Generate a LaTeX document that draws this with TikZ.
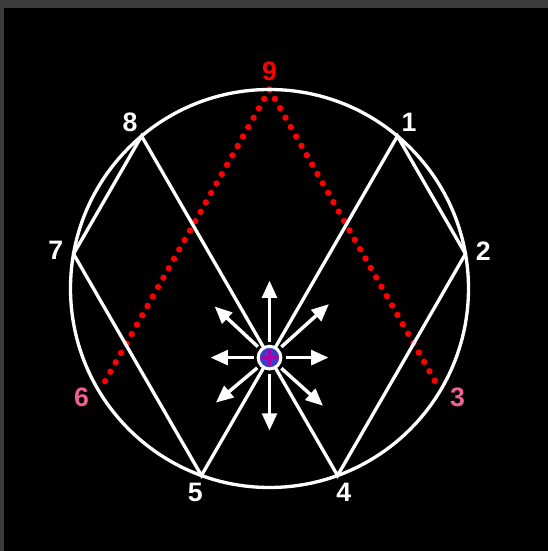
\documentclass[tikz,border=0pt]{standalone}
\usepackage{fontspec}
\setmainfont{Liberation Sans}
\definecolor{FrameGray}{RGB}{60,59,60}
\definecolor{DotRed}{RGB}{255,0,0}
\definecolor{SoftPink}{RGB}{240,96,150}
\definecolor{HubBlue}{RGB}{60,60,200}
\definecolor{HubPlum}{RGB}{170,0,170}
\usetikzlibrary{arrows.meta}

\begin{document}
\begin{tikzpicture}[x=0.75pt, y=0.75pt,
    every node/.style={font=\fontsize{20pt}{21pt}\selectfont\bfseries},
    ring/.style={draw=white, line width=2.5pt},
    edge/.style={white, line width=2.5pt, line join=miter},
    dotline/.style={DotRed, line width=4.8pt, line cap=round, dash pattern=on 0pt off 8.1pt},
    spoke/.style={white, line width=2.6pt, -{Triangle[length=13pt, width=11pt]}},
    hub/.style={circle, draw=white, line width=2.3pt, fill=HubBlue,
                minimum size=17pt, inner sep=0pt}
  ]
  % frame
  \fill[FrameGray] (0,0) rectangle (548,551);
  \fill[black] (4,0) rectangle (548,543);

  % points on the circle
  \coordinate (O) at (269.5,262.5);
  \foreach \k in {1,...,9}
    \path (O) ++({90-40*\k}:199) coordinate (p\k);
  \path (O) ++(210:192) coordinate (e6);
  \path (O) ++(-30:194) coordinate (e3);

  % red dotted lines from 9
  \draw[dotline] (p9) -- (e6);
  \draw[dotline] (p9) -- (e3);

  \draw[ring] (O) circle[radius=199];
  \draw[edge] (p8) -- (p7) -- (p5) -- (p1) -- (p2) -- (p4) -- cycle;

  % labels
  \foreach \k/\c in {1/white, 2/white, 3/SoftPink, 4/white, 5/white,
                     6/SoftPink, 7/white, 8/white, 9/DotRed}
    \path (O) ++({90-40*\k}:217) node[text=\c] (n\k) {\k};

  % centre and its arrows
  \coordinate (c) at (intersection of p8--p4 and p1--p5);
  \foreach \a/\r in {0/59, 42/80, 90/77, 137/75, 180/59, 220/70, 270/73, 318/72}
    \draw[spoke] ([shift={(\a:16)}]c) -- ([shift={(\a:\r)}]c);
  \node[hub] (h) at (c) {};
  \draw[HubPlum, line width=2.6pt] ([xshift=-5.5pt]h.center) -- ([xshift=5.5pt]h.center);
  \draw[HubPlum, line width=2.6pt] ([yshift=-5.5pt]h.center) -- ([yshift=5.5pt]h.center);
\end{tikzpicture}
\end{document}
